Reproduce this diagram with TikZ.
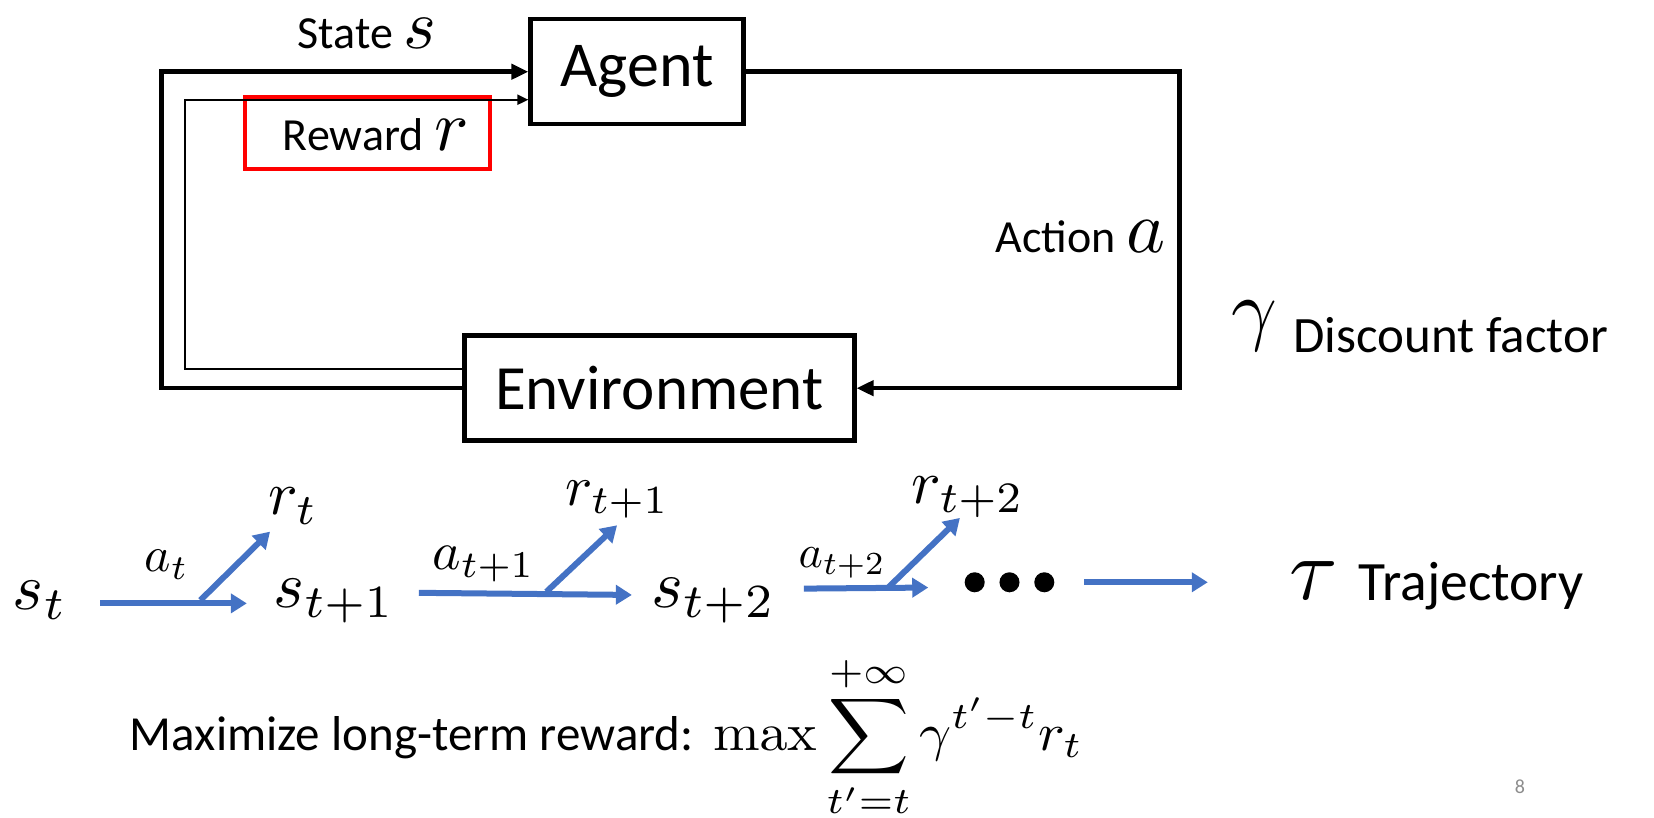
\documentclass[tikz,border=0pt]{standalone}
\RequirePackage{fix-cm}
\usepackage{amsmath}
\usepackage{graphicx}
\usepackage[no-math]{fontspec}
\setmainfont{Carlito}
\usetikzlibrary{arrows.meta}
\definecolor{arrowblue}{HTML}{4472C4}
\definecolor{boxred}{HTML}{FF0000}
\definecolor{pagegray}{HTML}{8C8C8C}
\newcommand{\fs}[1]{\fontsize{#1}{#1}\selectfont}
\newcommand{\bm}[2]{\scalebox{#1}{\normalsize$#2$}}
\begin{document}
\begin{tikzpicture}[x=1.0548pt,y=-1.0548pt,
  blockbox/.style={draw,line width=4.5pt,inner sep=0pt},
  thickline/.style={line width=4.5pt},
  thinline/.style={line width=2pt},
  bigtip/.style={-{Triangle[length=17pt,width=15pt]}},
  smalltip/.style={-{Triangle[length=11pt,width=10pt]}},
  bluearrow/.style={draw=arrowblue,line width=6pt,-{Triangle[length=16pt,width=19pt]}},
  lbl/.style={inner sep=0pt,anchor=base west}]
\useasboundingbox (0,0) rectangle (1568,775);

% boxes
\node[blockbox,minimum width=213pt,minimum height=105pt] (agent) at (604,68) {\fs{64}Agent};
\node[blockbox,minimum width=390pt,minimum height=105pt] (env) at (625,368) {\fs{63}Environment};
\node[draw=boxred,line width=4pt,minimum width=245pt,minimum height=72pt,inner sep=0pt] (rew) at (348,126) {};
\node[lbl] (rewtxt) at (268,143) {\fs{46}Reward \bm{7.2}{r}};
\node[lbl] (state) at (282,46) {\fs{46}State \bm{7}{s}};

% coordinates for loops
\coordinate (cL) at (153,0);
\coordinate (cl) at (175,0);
\coordinate (cR) at (1118,0);
\coordinate (e2) at ([yshift=19pt]env.west);
\coordinate (a2) at ([yshift=-28pt]agent.west);

\draw[thickline,bigtip] (env.west) -- (env.west -| cL) |- (agent.west);
\draw[thinline,smalltip] (e2) -- (e2 -| cl) |- (a2);
\draw[thickline,bigtip] (agent.east) -- (agent.east -| cR) |- (env.east);

\node[inner sep=0pt,anchor=base east] (act) at (1105,239) {\fs{46}Action \bm{7.4}{a}};
\node[lbl] (gam) at (1167,318) {\bm{8}{\gamma}};
\node[lbl] (disc) at (1226,334) {\fs{51}Discount factor};

% trajectory
\node[lbl] (s0) at (12,578) {\bm{6.6}{s_t}};
\node[lbl] (a0) at (137,542) {\bm{5.0}{a_t}};
\node[lbl] (r0) at (254,488) {\bm{6.2}{r_t}};
\node[lbl] (s1) at (259,576) {\bm{6.6}{s_{t+1}}};
\node[lbl] (a1) at (410,540) {\bm{5.4}{a_{t+1}}};
\node[lbl] (r1) at (536,479) {\bm{5.7}{r_{t+1}}};
\node[lbl] (s2) at (617,576) {\bm{6.8}{s_{t+2}}};
\node[lbl] (a2t) at (757,538) {\bm{4.6}{a_{t+2}}};
\node[lbl] (r2) at (864,477) {\bm{6.2}{r_{t+2}}};

\coordinate (h0s) at (95,572);  \coordinate (h0e) at (234,572);
\coordinate (b0s) at (190,569); \coordinate (b0e) at (256,504);
\coordinate (h1s) at (397,562); \coordinate (h1e) at (599,564);
\coordinate (b1s) at (518,561); \coordinate (b1e) at (585,498);
\coordinate (h2s) at (762,558); \coordinate (h2e) at (880,557);
\coordinate (b2s) at (842,557); \coordinate (b2e) at (910,491);
\coordinate (h3s) at (1028,552); \coordinate (h3e) at (1145,552);

\draw[bluearrow] (h0s) -- (h0e);
\draw[bluearrow] (b0s) -- (b0e);
\draw[bluearrow] (h1s) -- (h1e);
\draw[bluearrow] (b1s) -- (b1e);
\draw[bluearrow] (h2s) -- (h2e);
\draw[bluearrow] (b2s) -- (b2e);
\draw[bluearrow] (h3s) -- (h3e);

\fill (924,552) circle[radius=9.5];
\fill (957,552) circle[radius=9.5];
\fill (990,552) circle[radius=9.5];

\node[lbl] (tau) at (1222,568) {\bm{8.8}{\tau}};
\node[lbl] (traj) at (1288,569) {\fs{55.5}Trajectory};

% objective
\node[lbl] (maxtxt) at (123,711) {\fs{49}Maximize long-term reward:};
\node[lbl] (formula) at (676,711) {\scalebox{5.6}[5.3]{\normalsize$\displaystyle\max\sum_{t'=t}^{+\infty}\gamma^{t'-t}r_t$}};
\node[lbl,text=pagegray] (pg) at (1436,752) {\fs{20}8};
\end{tikzpicture}
\end{document}
